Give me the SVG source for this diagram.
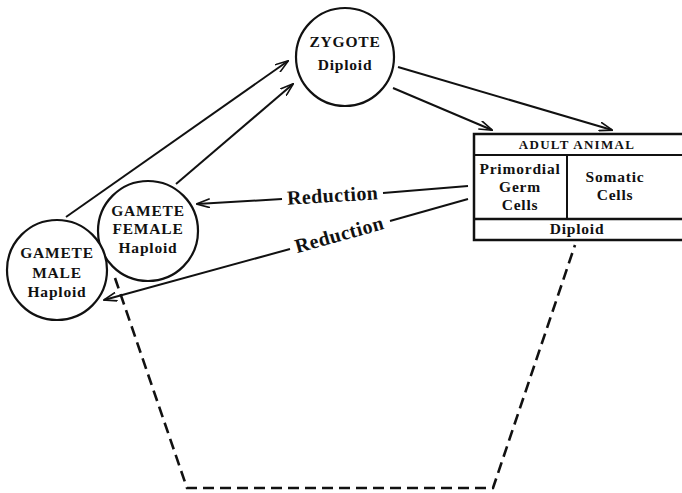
<svg xmlns="http://www.w3.org/2000/svg" width="682" height="493" viewBox="0 0 682 493">
<style>
.n{fill:#fff;stroke:#111;stroke-width:2.2}
.t{font-family:"Liberation Serif","Times New Roman",serif;font-weight:bold;fill:#111;text-anchor:middle;font-size:15.5px;letter-spacing:0.8px}
.r{font-size:20px;letter-spacing:0.4px}
.c{fill:none;stroke:#111;stroke-width:2}
.d{fill:none;stroke:#111;stroke-width:2.6;stroke-dasharray:11 6}
</style>
<defs>
<marker id="a" viewBox="0 0 14 10" refX="13" refY="5" markerWidth="14" markerHeight="10" markerUnits="userSpaceOnUse" orient="auto">
<path d="M0,0.5 L13.5,5 L0,9.5" fill="none" stroke="#111" stroke-width="1.6"/>
</marker>
</defs>
<rect width="682" height="493" fill="#fff"/>
<g id="connectors">
<path class="d" d="M115,278 L187,488 L493,488 L575,245"/>
<line class="c" x1="66" y1="217" x2="288" y2="61" marker-end="url(#a)"/>
<line class="c" x1="176" y1="184" x2="293" y2="84" marker-end="url(#a)"/>
<line class="c" x1="398" y1="67" x2="612" y2="130" marker-end="url(#a)"/>
<line class="c" x1="393" y1="88" x2="492" y2="130" marker-end="url(#a)"/>
<line class="c" x1="282" y1="199" x2="197" y2="204" marker-end="url(#a)"/>
<line class="c" x1="468" y1="186" x2="383" y2="193"/>
<line class="c" x1="290" y1="249" x2="104" y2="300" marker-end="url(#a)"/>
<line class="c" x1="468" y1="199" x2="390" y2="221"/>
<text class="t r" transform="translate(333,202) rotate(-3.5)">Reduction</text>
<text class="t r" transform="translate(341,241) rotate(-15.5)">Reduction</text>
</g>
<g id="zygote">
<circle class="n" cx="345" cy="57" r="49"/>
<text class="t" x="345" y="47">ZYGOTE</text>
<text class="t" x="345" y="70">Diploid</text>
</g>
<g id="adult">
<rect x="474" y="134" width="212" height="106" fill="#fff" stroke="#111" stroke-width="2.5"/>
<line x1="474" y1="155" x2="686" y2="155" stroke="#111" stroke-width="2"/>
<line x1="474" y1="219" x2="686" y2="219" stroke="#111" stroke-width="2.5"/>
<line x1="567" y1="155" x2="567" y2="219" stroke="#111" stroke-width="2"/>
<text class="t" x="577" y="149" style="font-size:13px;letter-spacing:1.3px">ADULT ANIMAL</text>
<text class="t" x="520" y="174">Primordial</text>
<text class="t" x="520" y="192">Germ</text>
<text class="t" x="520" y="210">Cells</text>
<text class="t" x="615" y="182">Somatic</text>
<text class="t" x="615" y="200">Cells</text>
<text class="t" x="577" y="234">Diploid</text>
</g>
<g id="gamete-female">
<circle class="n" cx="148" cy="231" r="50"/>
<text class="t" x="148" y="216">GAMETE</text>
<text class="t" x="148" y="234">FEMALE</text>
<text class="t" x="148" y="253">Haploid</text>
</g>
<g id="gamete-male">
<circle class="n" cx="57" cy="270" r="50"/>
<text class="t" x="57" y="258">GAMETE</text>
<text class="t" x="57" y="278">MALE</text>
<text class="t" x="57" y="297">Haploid</text>
</g>
</svg>
